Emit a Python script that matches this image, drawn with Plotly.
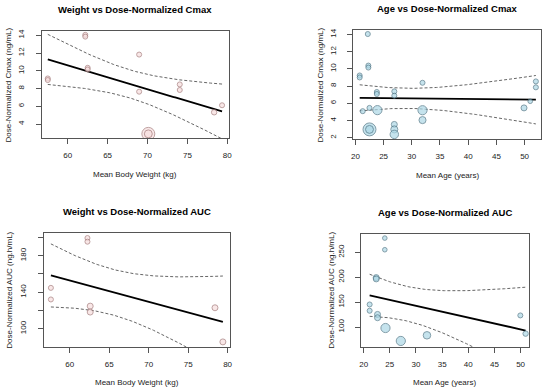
import numpy as np
import plotly.graph_objects as go
from math import sqrt

# ---------------- data ----------------
# Panel 1: Weight vs Dose-Normalized Cmax
w_cmax_x = [57.5, 57.5, 62.2, 62.2, 62.5, 62.5, 68.95, 68.95, 74.04, 74.04, 78.35, 79.34, 70.1, 70.1]
w_cmax_y = [9.14, 8.96, 14.05, 13.85, 10.34, 10.15, 11.83, 7.65, 8.47, 7.84, 5.33, 6.12, 2.9, 2.9]
w_cmax_n = [12, 12, 12, 12, 12, 12, 12, 12, 12, 12, 14, 12, 80, 30]

# Panel 2: Age vs Dose-Normalized Cmax
a_cmax_x = [20.76, 20.76, 21.3, 22.2, 22.3, 22.3, 22.5, 22.5, 22.5, 23.8, 23.8, 23.9,
            26.9, 26.9, 26.9, 26.9, 26.9, 31.9, 31.9, 31.9, 49.9, 51.0, 52.0, 52.0]
a_cmax_y = [9.23, 9.0, 5.08, 14.05, 10.38, 10.15, 5.46, 2.96, 2.96, 7.31, 7.08, 5.2,
            7.38, 6.88, 3.54, 2.96, 2.38, 8.38, 5.19, 4.04, 5.46, 6.23, 8.54, 7.85]
a_cmax_n = [12, 12, 12, 12, 12, 12, 12, 80, 30, 12, 12, 40,
            12, 12, 17, 24, 34, 12, 40, 24, 17, 10, 12, 12]

# Panel 3: Weight vs Dose-Normalized AUC
w_auc_x = [57.62, 57.62, 62.25, 62.25, 62.6, 62.6, 78.4, 79.4]
w_auc_y = [144.7, 132.0, 199.3, 195.3, 124.7, 118.2, 122.9, 85.5]
w_auc_n = [12, 12, 12, 12, 17, 17, 17, 17]

# Panel 4: Age vs Dose-Normalized AUC
a_auc_x = [21.14, 21.14, 22.4, 22.4, 22.65, 22.65, 24.04, 24.04, 24.17, 27.1, 32.1, 49.95, 50.96]
a_auc_y = [145.3, 132.7, 199.3, 196.7, 125.3, 118.7, 278.7, 255.3, 98.0, 72.0, 83.3, 123.3, 86.7]
a_auc_n = [12, 12, 17, 17, 17, 17, 10, 10, 40, 40, 27, 12, 14]

titles = ["Weight vs Dose-Normalized Cmax", "Age vs Dose-Normalized Cmax",
          "Weight vs Dose-Normalized AUC", "Age vs Dose-Normalized AUC"]
x_titles = ["Mean Body Weight (kg)", "Mean Age (years)", "Mean Body Weight (kg)", "Mean Age (years)"]
y_titles = ["Dose-Normalized Cmax (ng/mL)", "Dose-Normalized Cmax (ng/mL)",
            "Dose-Normalized AUC (ng.h/mL)", "Dose-Normalized AUC (ng.h/mL)"]

x_ticks = [[60, 65, 70, 75, 80], [20, 25, 30, 35, 40, 45, 50],
           [60, 65, 70, 75, 80], [20, 25, 30, 35, 40, 45, 50]]
y_ticks = [[4, 6, 8, 10, 12, 14], [2, 4, 6, 8, 10, 12, 14],
           [100, 120, 140, 160, 180, 200], [100, 150, 200, 250]]
y_tick_text = [["4", "6", "8", "10", "12", "14"], ["2", "4", "6", "8", "10", "12", "14"],
               ["100", "", "140", "", "180", ""], ["100", "150", "200", "250"]]

x_ranges = [[56.73, 80.2], [19.59, 52.92], [56.7, 80.29], [19.49, 51.58]]
y_ranges = [[2.4, 14.5], [1.81, 14.5], [80.0, 204.7], [60.0, 286.7]]

Z95 = 1.96


def fit_ci(x, y):
    x = np.asarray(x, float)
    y = np.asarray(y, float)
    n = len(x)
    b, a = np.polyfit(x, y, 1)
    resid = y - (a + b * x)
    s = sqrt(np.sum(resid ** 2) / (n - 2))
    sxx = np.sum((x - x.mean()) ** 2)
    xg = np.linspace(x.min(), x.max(), 120)
    yg = a + b * xg
    se = s * np.sqrt(1 / n + (xg - x.mean()) ** 2 / sxx)
    return xg, yg, yg - Z95 * se, yg + Z95 * se


W, H = 550, 390
boxes = [(40, 229, 29, 137), (354.3, 544, 28.3, 138),
         (42, 230, 232.3, 346.7), (362.3, 531.7, 233.3, 346.7)]

datasets = [(w_cmax_x, w_cmax_y, w_cmax_n), (a_cmax_x, a_cmax_y, a_cmax_n),
            (w_auc_x, w_auc_y, w_auc_n), (a_auc_x, a_auc_y, a_auc_n)]
fills = ["#f7dede", "#add8e6", "#f7dede", "#add8e6"]
edges = ["#a47a7a", "#4f7585", "#a47a7a", "#4f7585"]

FONT = "Liberation Sans, Arial, sans-serif"
fig = go.Figure()
annotations = []
layout_axes = {}

for i, ((xs, ys, ns), (x0, x1, y0, y1)) in enumerate(zip(datasets, boxes)):
    k = "" if i == 0 else str(i + 1)
    xa, ya = "x" + k, "y" + k
    dx = [x0 / W, x1 / W]
    dy = [1 - y1 / H, 1 - y0 / H]

    xg, yg, lo, hi = fit_ci(xs, ys)
    for band in (lo, hi):
        fig.add_trace(go.Scatter(x=xg, y=band, mode="lines", xaxis=xa, yaxis=ya,
                                 line=dict(color="#666666", width=1, dash="3px,2px"),
                                 hoverinfo="skip", showlegend=False))
    fig.add_trace(go.Scatter(x=xg, y=yg, mode="lines", xaxis=xa, yaxis=ya,
                             line=dict(color="black", width=1.8),
                             hoverinfo="skip", showlegend=False))
    sizes = [1.45 * sqrt(v) for v in ns]
    fig.add_trace(go.Scatter(x=xs, y=ys, mode="markers", xaxis=xa, yaxis=ya,
                             marker=dict(size=sizes, color=fills[i],
                                         line=dict(color=edges[i], width=1)),
                             showlegend=False))

    common = dict(showgrid=False, zeroline=False, showline=True, mirror=True,
                  linecolor="#555555", linewidth=1, ticks="outside", ticklen=5,
                  tickwidth=1, tickcolor="#555555",
                  tickfont=dict(family=FONT, size=8, color="#222222"))
    layout_axes["xaxis" + k] = dict(common, domain=dx, range=x_ranges[i], anchor=ya,
                                    tickvals=x_ticks[i], ticklabelstandoff=4)
    layout_axes["yaxis" + k] = dict(common, domain=dy, range=y_ranges[i], anchor=xa,
                                    tickvals=y_ticks[i], ticktext=y_tick_text[i],
                                    tickangle=-90, ticklabelstandoff=8)

    cx = (x0 + x1) / 2 / W
    annotations.append(dict(text="<b>" + titles[i] + "</b>", x=cx, y=1 - (y0 - 21.5) / H,
                            xref="paper", yref="paper", showarrow=False,
                            xanchor="center", yanchor="middle",
                            font=dict(family=FONT, size=9.5, color="black")))
    annotations.append(dict(text=x_titles[i], x=cx, y=1 - (y1 + 36) / H,
                            xref="paper", yref="paper", showarrow=False,
                            xanchor="center", yanchor="middle",
                            font=dict(family=FONT, size=8, color="#222222")))
    ytx = [7, 321.7, 6.7, 332.3][i]
    annotations.append(dict(text=y_titles[i], x=ytx / W, y=1 - ((y0 + y1) / 2) / H,
                            xref="paper", yref="paper", showarrow=False,
                            xanchor="center", yanchor="middle", textangle=-90,
                            font=dict(family=FONT, size=8, color="#222222")))

fig.update_layout(width=W, height=H, autosize=False,
                  margin=dict(l=0, r=0, t=0, b=0),
                  paper_bgcolor="white", plot_bgcolor="white",
                  annotations=annotations, **layout_axes)

fig.write_html("out.html", config={"displayModeBar": False},
               post_script="document.body.style.margin='0';document.body.style.padding='0';")
